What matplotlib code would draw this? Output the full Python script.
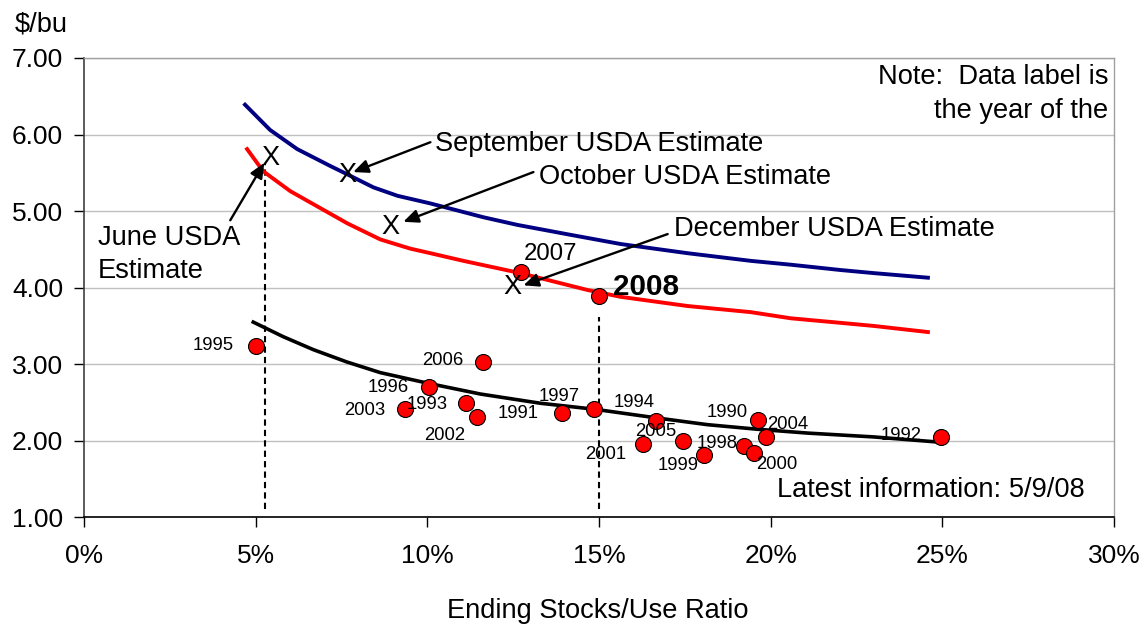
import matplotlib
matplotlib.use("Agg")
import matplotlib.pyplot as plt
from matplotlib.ticker import FuncFormatter, MultipleLocator

plt.rcParams['font.family'] = ['Liberation Sans', 'DejaVu Sans']

# Historical marketing years: ending stocks/use ratio (%) and season-average price ($/bu)
years = [1990, 1991, 1992, 1993, 1994, 1995, 1996, 1997, 1998, 1999,
         2000, 2001, 2002, 2003, 2004, 2005, 2006, 2007, 2008]
stocks_use = [19.62, 13.91, 24.96, 11.14, 16.65, 5.01, 10.06, 14.84, 19.21, 18.05,
              19.50, 16.27, 11.46, 9.36, 19.85, 17.46, 11.63, 12.74, 14.99]
price = [2.27, 2.36, 2.05, 2.49, 2.26, 3.24, 2.70, 2.41, 1.93, 1.81,
         1.84, 1.96, 2.31, 2.41, 2.05, 2.00, 3.03, 4.20, 3.89]

# Historical relationship (black curve)
hist_x = [4.93, 5.80, 6.68, 7.65, 8.63, 10.03, 11.55, 13.29, 14.90, 16.65, 18.16,
          19.62, 21.08, 23.00, 24.96]
hist_y = [3.55, 3.36, 3.19, 3.03, 2.89, 2.75, 2.61, 2.49, 2.41, 2.30, 2.21,
          2.15, 2.10, 2.05, 1.98]

# Upper price curve (blue)
blue_x = [4.69, 5.42, 6.21, 7.17, 7.67, 8.43, 9.13, 10.09, 11.63, 12.62, 14.17,
          15.63, 17.58, 19.42, 20.58, 22.04, 23.00, 24.58]
blue_y = [6.39, 6.06, 5.81, 5.59, 5.48, 5.31, 5.20, 5.10, 4.92, 4.82, 4.69,
          4.57, 4.45, 4.35, 4.30, 4.23, 4.19, 4.13]

# Lower price curve (red)
red_x = [4.75, 5.22, 6.01, 6.88, 7.67, 8.63, 9.50, 10.09, 11.05, 12.71, 14.66,
         15.63, 17.58, 19.42, 20.58, 22.04, 23.00, 24.58]
red_y = [5.81, 5.52, 5.26, 5.04, 4.84, 4.63, 4.51, 4.45, 4.35, 4.19, 3.97,
         3.88, 3.76, 3.68, 3.60, 3.54, 3.50, 3.42]

# USDA estimates for the 2008 crop (stocks/use %, price)
est_names = ["June", "September", "October", "December"]
est_x = [5.42, 7.67, 8.92, 12.48]
est_y = [5.69, 5.47, 4.79, 4.01]

# Label offsets (pixels) for the year labels
label_off = {
    1990: (-30, 8), 1991: (-43, 0), 1992: (-40, 1), 1993: (-39, -1),
    1994: (-22, 18), 1995: (-43, 0), 1996: (-41, 0), 1997: (-34, 13),
    1998: (-26, 3), 1999: (-26, -10), 2000: (23, -12), 2001: (-37, -11),
    2002: (-33, -18), 2003: (-41, -1), 2004: (22, 12), 2005: (-28, 9),
    2006: (-41, 1),
}

W, H = 1139, 627
fig = plt.figure(figsize=(W / 100, H / 100), dpi=100)
ax = fig.add_axes([84 / W, 1 - 517.3 / H, 1030 / W, 459.3 / H])

ax.set_xlim(0, 30)
ax.set_ylim(1, 7)
ax.xaxis.set_major_locator(MultipleLocator(5))
ax.yaxis.set_major_locator(MultipleLocator(1))
ax.xaxis.set_major_formatter(FuncFormatter(lambda v, p: f"{v:.0f}%"))
ax.yaxis.set_major_formatter(FuncFormatter(lambda v, p: f"{v:.2f}"))
ax.tick_params(axis='both', labelsize=19, direction='out', length=7, width=1, colors='black')
ax.tick_params(axis='y', pad=8)
ax.tick_params(axis='x', pad=12)
ax.grid(axis='y', color='#c0c0c0', lw=1)
ax.set_axisbelow(True)
for s in ['top', 'right']:
    ax.spines[s].set_color('#a0a0a0')
    ax.spines[s].set_linewidth(1)
ax.spines['left'].set_color('#404040')
ax.spines['bottom'].set_color('black')
ax.spines['left'].set_linewidth(1.2)
ax.spines['bottom'].set_linewidth(1.2)

# Curves
ax.plot(blue_x, blue_y, color='#000080', lw=2.8, zorder=3, solid_joinstyle='round')
ax.plot(red_x, red_y, color='#ff0000', lw=2.8, zorder=3, solid_joinstyle='round')
ax.plot(hist_x, hist_y, color='black', lw=2.6, zorder=3, solid_joinstyle='round')

# Reference dashed lines
ax.plot([5.28, 5.28], [1.11, 5.62], color='black', lw=1.5, ls=(0, (3, 2)), zorder=2)
ax.plot([15.0, 15.0], [1.11, 3.62], color='black', lw=1.5, ls=(0, (3, 2)), zorder=2)

# Historical points
ax.scatter(stocks_use, price, s=11.5 ** 2, c='#ff0000', edgecolors='black',
           linewidths=0.8, zorder=5)

for yr, xv, yv in zip(years, stocks_use, price):
    if yr in label_off:
        ax.annotate(str(yr), (xv, yv), xytext=label_off[yr], textcoords='offset pixels',
                    ha='center', va='center', fontsize=13.3, zorder=6)

ax.text(12.80, 4.361, "2007", fontsize=17.3, ha='left', va='baseline', zorder=6)
ax.text(15.42, 3.904, "2008", fontsize=21.3, fontweight='bold', ha='left', va='baseline', zorder=6)

# USDA estimate markers
for xv, yv in zip(est_x, est_y):
    ax.text(xv, yv, "X", fontsize=19.5, ha='center', va='center', zorder=7)

arrow = dict(arrowstyle='-|>,head_length=0.9,head_width=0.4', color='black', lw=1.7,
             shrinkA=0, shrinkB=0)
ax.annotate("", xy=(5.25, 5.63), xytext=(4.26, 4.88), arrowprops=arrow, zorder=7)
ax.annotate("", xy=(7.84, 5.51), xytext=(10.09, 5.90), arrowprops=arrow, zorder=7)
ax.annotate("", xy=(9.30, 4.86), xytext=(13.09, 5.51), arrowprops=arrow, zorder=7)
ax.annotate("", xy=(12.80, 4.03), xytext=(17.00, 4.70), arrowprops=arrow, zorder=7)

fs = 19.6
ax.text(10.23, 5.785, "September USDA Estimate", fontsize=fs, va='baseline')
ax.text(13.24, 5.354, "October USDA Estimate", fontsize=fs, va='baseline')
ax.text(17.17, 4.675, "December USDA Estimate", fontsize=fs, va='baseline')
ax.text(0.41, 4.557, "June USDA", fontsize=fs, va='baseline')
ax.text(0.41, 4.126, "Estimate", fontsize=fs, va='baseline')
ax.text(20.17, 1.265, "Latest information: 5/9/08", fontsize=fs, va='baseline')
ax.text(29.83, 6.66, "Note:  Data label is", fontsize=fs, ha='right', va='baseline')
ax.text(29.83, 6.22, "the year of the", fontsize=fs, ha='right', va='baseline')

fig.text(15 / W, 1 - 32 / H, "$/bu", fontsize=fs, ha='left', va='baseline')
fig.text(598 / W, 1 - 611 / H, "Ending Stocks/Use Ratio", fontsize=fs, ha='center', va='center')

fig.savefig("out.png", dpi=100)
